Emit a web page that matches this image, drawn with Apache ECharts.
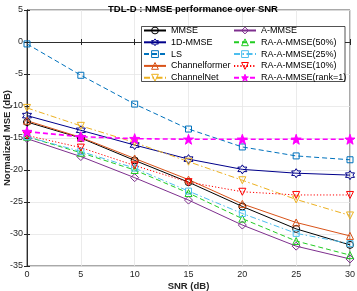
<!DOCTYPE html>
<html><head><meta charset="utf-8">
<script src="https://cdn.jsdelivr.net/npm/echarts@6/dist/echarts.min.js"></script>
<style>html,body{margin:0;padding:0;background:#fff}#c{width:357px;height:291px}</style>
</head><body><div id="c"></div>
<script>
var snr = [0, 5, 10, 15, 20, 25, 30];
var mmse = [-12.5, -15.0, -18.5, -21.9, -25.7, -29.2, -31.7];
var oneDmmse = [-11.5, -13.8, -16.1, -18.3, -19.9, -20.5, -20.8];
var ls = [-0.3, -5.2, -9.7, -13.6, -16.4, -17.8, -18.4];
var channelformer = [-12.3, -14.9, -18.2, -21.5, -25.3, -28.2, -30.3];
var channelnet = [-10.3, -13.1, -15.7, -18.7, -21.6, -24.6, -27.1];
var ammse = [-15.1, -17.9, -21.2, -24.7, -28.6, -31.9, -33.9];
var ra50 = [-14.8, -17.3, -20.0, -23.6, -27.6, -31.1, -33.3];
var ra25 = [-14.8, -17.1, -19.7, -23.3, -26.8, -29.9, -31.5];
var ra10 = [-14.6, -16.5, -19.3, -21.9, -23.4, -23.9, -23.9];
var rank1 = [-14.0, -14.8, -15.1, -15.2, -15.2, -15.2, -15.2];
var names = ['MMSE','1D-MMSE','LS','Channelformer','ChannelNet','A-MMSE','RA-A-MMSE(50%)','RA-A-MMSE(25%)','RA-A-MMSE(10%)','RA-A-MMSE(rank=1)'];

var hexagram = 'path://M0,-10L2.89,-5L8.66,-5L5.77,0L8.66,5L2.89,5L0,10L-2.89,5L-8.66,5L-5.77,0L-8.66,-5L-2.89,-5Z';
var star5 = 'path://M0,-10L2.35,-3.24L9.51,-3.09L3.8,1.24L5.88,8.09L0,4L-5.88,8.09L-3.8,1.24L-9.51,-3.09L-2.35,-3.24Z';

var colors = ['#000000', '#00008B', '#0072BD', '#D95319', '#EDB120', '#7E2F8E', '#22CC22', '#4DBEEE', '#FF0000', '#FF00FF'];
var fills = {};
function mk(idx, data, type, symbol, opts) {
  opts = opts || {};
  var color = colors[idx];
  fills[idx] = opts.fill || 'rgba(255,255,255,0)';
  return {
    name: names[idx], type: 'line',
    data: snr.map(function (x, i) { return [x, data[i]]; }),
    symbol: symbol, symbolSize: opts.size || 7, symbolRotate: opts.rot || 0,
    showAllSymbol: true,
    lineStyle: { color: color, width: opts.width || 1, type: type },
    itemStyle: { color: fills[idx], borderColor: color, borderWidth: 1 },
    emphasis: { disabled: true },
    animation: false, z: 2
  };
}
var dash = [5, 3], dashdot = [6, 2.5, 1.5, 2.5], dot = [1.2, 2];
var series = [
  mk(0, mmse, 'solid', 'circle'),
  mk(1, oneDmmse, 'solid', hexagram, {size: 9}),
  mk(2, ls, dash, 'rect', {size: 6}),
  mk(3, channelformer, 'solid', 'triangle'),
  mk(4, channelnet, dashdot, 'triangle', {rot: 180}),
  mk(5, ammse, 'solid', 'diamond', {size: 8}),
  mk(6, ra50, dash, 'triangle'),
  mk(7, ra25, dashdot, 'rect', {size: 6}),
  mk(8, ra10, dot, 'triangle', {rot: 180}),
  mk(9, rank1, dash, star5, {size: 10, width: 1.6, fill: '#FF00FF'})
];

function legendData(from, to) {
  var out = [];
  for (var i = from; i < to; i++) {
    out.push({ name: names[i], itemStyle: { color: fills[i], borderColor: colors[i], borderWidth: 1 } });
  }
  return out;
}

var ff = 'Liberation Sans, Arial, sans-serif';
var legendCommon = {
  orient: 'vertical', top: 26, padding: 0, itemWidth: 22, itemHeight: 8.5, itemGap: 2.8,
  textStyle: { fontSize: 9, fontFamily: ff, color: '#000', lineHeight: 8 },
  selectedMode: false, z: 10
};
var chart = echarts.init(document.getElementById('c'), null, { renderer: 'canvas' });
chart.setOption({
  animation: false,
  backgroundColor: '#fff',
  title: { text: 'TDL-D : NMSE performance over SNR', left: 188, top: -1, textAlign: 'center',
    textStyle: { fontSize: 9.5, fontWeight: 'bold', fontFamily: ff, color: '#000' } },
  grid: { left: 27, right: 7, top: 10, bottom: 25, show: true, borderColor: '#262626', borderWidth: 0.8,
    backgroundColor: 'transparent', containLabel: false, outerBoundsMode: 'none' },
  xAxis: [{
    type: 'value', min: 0, max: 30, interval: 5,
    name: 'SNR (dB)', nameLocation: 'middle', nameGap: 15, nameMoveOverlap: false,
    nameTextStyle: { fontSize: 9.5, fontWeight: 'bold', fontFamily: ff, color: '#262626' },
    axisLine: { show: true, lineStyle: { color: '#262626', width: 0.8 } },
    axisTick: { show: true, inside: true, length: 3, lineStyle: { color: '#262626' } },
    axisLabel: { fontSize: 9, fontFamily: ff, color: '#262626', margin: 4 },
    splitLine: { show: true, lineStyle: { color: '#e6e6e6', width: 0.8 } }
  }, {
    type: 'value', min: 0, max: 30, interval: 5, position: 'top',
    axisLine: { show: true, lineStyle: { color: '#262626', width: 0.8 } },
    axisTick: { show: true, inside: true, length: 3, lineStyle: { color: '#262626' } },
    axisLabel: { show: false }, splitLine: { show: false }
  }],
  yAxis: [{
    type: 'value', min: -35, max: 5, interval: 5,
    name: 'Normalized MSE (dB)', nameLocation: 'middle', nameGap: 15, nameMoveOverlap: false,
    nameTextStyle: { fontSize: 9.5, fontWeight: 'bold', fontFamily: ff, color: '#262626' },
    axisLine: { show: true, lineStyle: { color: '#262626', width: 0.8 } },
    axisTick: { show: true, inside: true, length: 3, lineStyle: { color: '#262626' } },
    axisLabel: { fontSize: 9, fontFamily: ff, color: '#262626', margin: 4 },
    splitLine: { show: true, lineStyle: { color: '#e6e6e6', width: 0.8 } }
  }, {
    type: 'value', min: -35, max: 5, interval: 5, position: 'right',
    axisLine: { show: true, lineStyle: { color: '#262626', width: 0.8 } },
    axisTick: { show: true, inside: true, length: 3, lineStyle: { color: '#262626' } },
    axisLabel: { show: false }, splitLine: { show: false }
  }],
  graphic: [{
    type: 'rect', shape: { x: 141.5, y: 26.5, width: 203.5, height: 55 }, z: 5,
    style: { fill: '#fff', stroke: '#262626', lineWidth: 0.8 }
  }],
  legend: [
    Object.assign({ left: 143, data: legendData(0, 5) }, legendCommon),
    Object.assign({ left: 233, data: legendData(5, 10) }, legendCommon)
  ],
  series: series
});
</script></body></html>
